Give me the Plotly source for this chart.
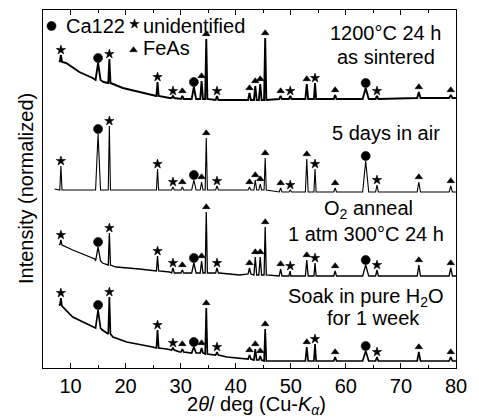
import plotly.graph_objects as go

# ---------------- data ----------------
# peak positions (2theta, deg) and phase of each peak
peak_pos = [8.25, 15.0, 17.05, 25.8, 28.6, 30.3, 32.4, 33.8, 34.65, 36.6,
            42.5, 43.55, 44.45, 45.35, 48.15, 49.9, 52.9, 54.4, 58.05,
            63.6, 65.65, 73.25, 79.05]
peak_kind = ["star", "circle", "star", "star", "star", "tri", "circle", "tri", "tri", "star",
             "tri", "tri", "tri", "tri", "tri", "star", "tri", "star", "tri",
             "circle", "star", "tri", "tri"]
peak_halfwidth = [0.2, 0.45, 0.2, 0.2, 0.25, 0.25, 0.4, 0.25, 0.2, 0.25,
                  0.25, 0.25, 0.25, 0.2, 0.25, 0.25, 0.25, 0.2, 0.25,
                  0.55, 0.25, 0.3, 0.3]

# trace 1: 1200°C 24 h, as sintered  (intensity incl. stacking offset, arbitrary units)
s1_bg_x = [8.0, 9.2, 11.6, 14.0, 16.0, 19.5, 22.5, 25.0, 28.0, 37.5, 41.5, 47.0, 60.0, 70.0, 80.0]
s1_bg_y = [307, 305, 296, 290, 286, 280, 276, 273, 270, 268, 268, 269, 269, 270, 270]
s1_top = [313, 305, 309, 286, 272, 272, 281, 287, 329, 272, 275, 282, 284, 330, 272, 272,
          284, 285, 273, 280, 272, 276, 273]
s1_foot = [306, 288, 285, 272, 270, 269, 269, 269, 269, 268, 268, 268, 268, 268, 269, 269,
           269, 269, 269, 269, 269, 270, 270]
s1_marked = [1] * 23

# trace 2: 5 days in air
s2_bg_x = [7.1, 20.0, 40.0, 46.5, 60.0, 80.0]
s2_bg_y = [179, 178, 178, 177, 176, 176]
s2_top = [202, 234, 242, 199, 181, 181, 188, 186, 230, 182, 181, 188, 184, 210, 180, 178,
          209, 199, 180, 207, 183, 186, 182]
s2_foot = [178, 178, 178, 178, 178, 178, 178, 178, 178, 178, 178, 178, 178, 178, 176, 176,
           176, 176, 176, 176, 176, 176, 176]
s2_marked = [1] * 23

# trace 3: O2 anneal 1 atm 300°C 24 h
s3_bg_x = [8.0, 10.4, 13.5, 14.4, 15.8, 18.3, 22.5, 25.3, 28.0, 37.0, 40.7, 50.0, 80.0]
s3_bg_y = [124, 118, 111, 109, 105, 101, 99, 97, 96, 95, 93, 92, 92]
s3_top = [128, 121, 135, 112, 100, 98, 105, 107, 156, 100, 100, 111, 111, 141, 99, 97,
          108, 105, 97, 103, 98, 103, 100]
s3_foot = [123, 107, 103, 97, 95, 95, 95, 95, 95, 95, 94, 93, 93, 93, 92, 92,
           92, 92, 92, 92, 92, 92, 92]
s3_marked = [1] * 23

# trace 4: soak in pure water for 1 week
s4_bg_x = [8.0, 10.4, 13.5, 14.4, 15.8, 17.7, 20.2, 24.9, 27.5, 29.8, 33.5, 38.4, 42.0, 46.0, 80.0]
s4_bg_y = [64, 51, 43, 41, 38, 31, 26, 21, 19, 16, 15, 11, 9, 7, 7]
s4_top = [70, 58, 71, 38, 20, 19, 21, 20, 60, 16, 13, 19, 12, 39, 7, 7,
          21, 24, 11, 17, 11, 16, 11]
s4_foot = [62, 40, 34, 20, 18, 16, 15, 15, 14, 13, 9, 8, 8, 7, 7, 7,
           7, 7, 7, 7, 7, 7, 7]
s4_marked = [1] * 14 + [0, 0] + [1] * 7

series = [
    (s1_bg_x, s1_bg_y, s1_top, s1_foot, s1_marked, 1.9),
    (s2_bg_x, s2_bg_y, s2_top, s2_foot, s2_marked, 1.1),
    (s3_bg_x, s3_bg_y, s3_top, s3_foot, s3_marked, 1.3),
    (s4_bg_x, s4_bg_y, s4_top, s4_foot, s4_marked, 1.7),
]

x_ticks = [10, 20, 30, 40, 50, 60, 70, 80]
x_minor = [15, 25, 35, 45, 55, 65, 75]
X_RANGE = [5, 80]
Y_RANGE = [0, 358]
FONT = "Liberation Sans, Arial, sans-serif"

sym = {"circle": "circle", "star": "star", "tri": "triangle-up"}
msize = {"circle": 9, "star": 7, "tri": 6.5}
MARK_GAP = 5

fig = go.Figure()
for bx, by, top, foot, marked, lw in series:
    pts = list(zip(bx, by))
    for p, w, t, f in zip(peak_pos, peak_halfwidth, top, foot):
        pts += [(p - w, f), (p, t), (p + w, f)]
    pts.sort()
    fig.add_trace(go.Scatter(x=[a for a, _ in pts], y=[b for _, b in pts], mode="lines",
                             line=dict(color="black", width=lw), showlegend=False,
                             hoverinfo="skip"))
    mx, my, ms, mz = [], [], [], []
    for p, t, k, m in zip(peak_pos, top, peak_kind, marked):
        if m:
            mx.append(p)
            my.append(t + MARK_GAP)
            ms.append(sym[k])
            mz.append(msize[k])
    fig.add_trace(go.Scatter(x=mx, y=my, mode="markers",
                             marker=dict(symbol=ms, size=mz, color="black", opacity=1,
                                         line=dict(width=0.6, color="black")),
                             showlegend=False, hoverinfo="skip"))


# custom key (top-left)
def px2data(px, py):
    x = X_RANGE[0] + (px - 43.5) / 413.0 * (X_RANGE[1] - X_RANGE[0])
    y = (368 - py) / 358.0 * (Y_RANGE[1] - Y_RANGE[0])
    return x, y


key_items = [("circle", 52, 26, "Ca122", 64, 26),
             ("star", 135, 24, "unidentified", 141, 26),
             ("tri", 134, 50, "FeAs", 141, 48)]
for k, sx, sy, txt, tx, ty in key_items:
    kx, ky = px2data(sx, sy)
    fig.add_trace(go.Scatter(x=[kx], y=[ky], mode="markers",
                             marker=dict(symbol=sym[k], size=msize[k], color="black", opacity=1,
                                         line=dict(width=0.6, color="black")),
                             showlegend=False, hoverinfo="skip"))
    fig.add_annotation(text=txt, xref="paper", yref="paper",
                       x=(tx - 43) / 413.0, y=(368 - ty) / 358.0,
                       xanchor="left", yanchor="middle", showarrow=False,
                       font=dict(family=FONT, size=20, color="black"))

# sample labels
sample_text = [("1200°C 24 h", 385, 33), ("as sintered", 386, 57),
               ("5 days in air", 386, 133),
               ("O<sub>2</sub> anneal", 368, 209), ("1 atm 300°C 24 h", 366, 234),
               ("Soak in pure H<sub>2</sub>O", 366, 297), ("for 1 week", 373, 318)]
for txt, cx, cy in sample_text:
    fig.add_annotation(text=txt, xref="paper", yref="paper",
                       x=(cx - 43) / 413.0, y=(368 - cy) / 358.0,
                       xanchor="center", yanchor="middle", showarrow=False,
                       font=dict(family=FONT, size=20, color="black"))

# axis titles
fig.add_annotation(text="2<i>θ</i>/ deg (Cu-<i>K</i><sub><i>α</i></sub>)", xref="paper", yref="paper",
                   x=(256 - 43) / 413.0, y=(368 - 405) / 358.0, xanchor="center", yanchor="middle",
                   showarrow=False, font=dict(family=FONT, size=20, color="black"))
fig.add_annotation(text="Intensity (normalized)", xref="paper", yref="paper",
                   x=(26 - 43) / 413.0, y=0.5, xanchor="center", yanchor="middle", textangle=-90,
                   showarrow=False, font=dict(family=FONT, size=20, color="black"))

fig.update_layout(
    width=479, height=419,
    margin=dict(l=43, r=23, t=10, b=51),
    paper_bgcolor="white", plot_bgcolor="white",
    xaxis=dict(range=X_RANGE, tickmode="array", tickvals=x_ticks,
               ticks="inside", ticklen=5, tickwidth=1, tickcolor="black",
               minor=dict(tickvals=x_minor, ticks="inside", ticklen=3,
                          tickwidth=1, tickcolor="black"),
               showline=True, linecolor="black", linewidth=1, mirror="ticks",
               showgrid=False, zeroline=False,
               tickfont=dict(family=FONT, size=20, color="black")),
    yaxis=dict(range=Y_RANGE, showticklabels=False, ticks="", showline=True, linecolor="black",
               linewidth=1, mirror=True, showgrid=False, zeroline=False),
)

fig.write_html("out.html")
